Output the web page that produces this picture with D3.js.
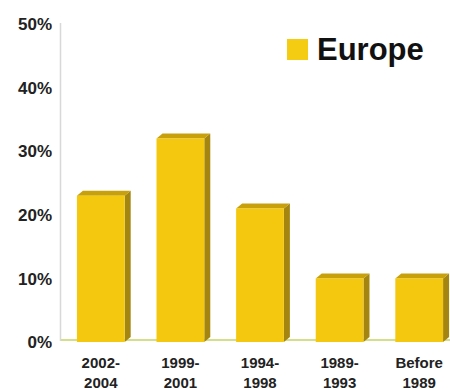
<!DOCTYPE html>
<html><head><meta charset="utf-8">
<script src="https://cdn.jsdelivr.net/npm/d3@7"></script>
<style>html,body{margin:0;padding:0;background:#fff;}svg{display:block;}</style>
</head><body>
<script>
const categories = [["2002-","2004"],["1999-","2001"],["1994-","1998"],["1989-","1993"],["Before","1989"]];
const values = [23, 32, 21, 10, 10];
const yTicks = [0, 10, 20, 30, 40, 50];
const seriesName = "Europe";

const W = 450, H = 389;
const svg = d3.select("body").append("svg").attr("width", W).attr("height", H);

const x = d3.scaleBand().domain(d3.range(categories.length)).range([61, 459]).paddingInner(0.4).paddingOuter(0.2);
const y = d3.scaleLinear().domain([0, 50]).range([342, 24]);
const dx = 6, dy = 5;

// axis line
svg.append("line").attr("x1", 60.5).attr("x2", 60.5).attr("y1", y(50)-1).attr("y2", y(0)-1)
  .attr("stroke", "#d8d8d8").attr("stroke-width", 1.5);
// floor line
svg.append("line").attr("x1", 61).attr("x2", 450).attr("y1", y(0)-2).attr("y2", y(0)-2)
  .attr("stroke", "#d4df8c").attr("stroke-width", 2);

// y tick labels
svg.append("g").selectAll("text").data(yTicks).join("text")
  .attr("x", 52).attr("y", d => y(d)).attr("dy", "0.36em")
  .attr("text-anchor", "end")
  .attr("font-family", "Liberation Sans, Arial, sans-serif").attr("font-weight", "bold")
  .attr("font-size", 17).attr("fill", "#222")
  .text(d => d + "%");

// bars
const g = svg.append("g");
values.forEach((v, i) => {
  const x0 = x(i), w = x.bandwidth(), yt = y(v), yb = y(0);
  // side
  g.append("path").attr("d", `M${x0+w},${yt} L${x0+w+dx},${yt-dy} L${x0+w+dx},${yb-dy} L${x0+w},${yb} Z`)
    .attr("fill", "#a3850f");
  // top
  g.append("path").attr("d", `M${x0},${yt} L${x0+dx},${yt-dy} L${x0+w+dx},${yt-dy} L${x0+w},${yt} Z`)
    .attr("fill", "#c8a00c");
  // front
  g.append("rect").attr("x", x0).attr("y", yt).attr("width", w).attr("height", yb - yt)
    .attr("fill", "#f4c80e");
});

// x labels
const xl = svg.append("g").selectAll("text").data(categories).join("text")
  .attr("text-anchor", "middle")
  .attr("font-family", "Liberation Sans, Arial, sans-serif").attr("font-weight", "bold")
  .attr("font-size", 15).attr("fill", "#222");
xl.each(function(d, i) {
  const t = d3.select(this);
  const cx = x(i) + x.bandwidth()/2;
  d.forEach((line, j) => {
    t.append("tspan").attr("x", cx).attr("y", 368 + j*20).text(line);
  });
});

// legend
svg.append("rect").attr("x", 287).attr("y", 39).attr("width", 21).attr("height", 21).attr("fill", "#f4cc12");
svg.append("text").attr("x", 317).attr("y", 60)
  .attr("font-family", "Liberation Sans, Arial, sans-serif").attr("font-weight", "bold")
  .attr("font-size", 31).attr("fill", "#111").text(seriesName);
</script>
</body></html>
